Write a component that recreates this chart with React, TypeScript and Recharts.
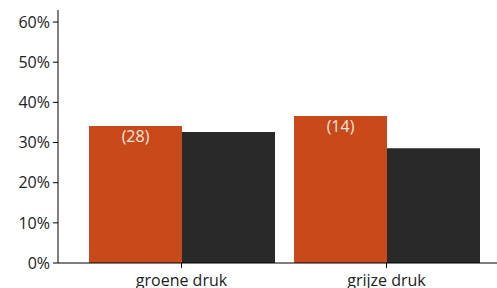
import { BarChart, Bar, XAxis, YAxis, LabelList } from "recharts";

const categories = ["groene druk", "grijze druk"];
const orangeValues = [34.1, 36.6];
const darkValues = [32.6, 28.6];
const orangeLabels = ["(28)", "(14)"];
const yTicks = [0, 10, 20, 30, 40, 50, 60];

const data = categories.map((name, i) => ({
  name,
  a: orangeValues[i],
  b: darkValues[i],
  label: orangeLabels[i],
}));

const FONT = "'Open Sans', 'Noto Sans', sans-serif";

export default function App() {
  return (
    <div style={{ position: "absolute", left: 0, top: 0, fontFamily: FONT }}>
      <BarChart
        width={497}
        height={288}
        data={data}
        margin={{ top: 10, right: 0, bottom: 0, left: 0 }}
        barGap={0}
        barCategoryGap={10}
      >
        <XAxis
          dataKey="name"
          height={25}
          padding={{ left: 21, right: 8 }}
          axisLine={{ stroke: "#000" }}
          tickLine={{ stroke: "#000" }}
          tickSize={5}
          tick={{ fill: "#222", fontSize: 16, fontFamily: FONT }}
          tickMargin={7}
        />
        <YAxis
          width={58}
          domain={[0, 63]}
          ticks={yTicks}
          tickFormatter={(v) => `${v}%`}
          axisLine={{ stroke: "#000" }}
          tickLine={{ stroke: "#000" }}
          tickSize={5}
          tick={{ fill: "#222", fontSize: 16, fontFamily: FONT }}
          tickMargin={3}
        />
        <Bar dataKey="a" fill="#C84A1B" isAnimationActive={false}>
          <LabelList
            dataKey="label"
            position="insideTop"
            offset={5}
            fill="#f3e6df"
            fontSize={16}
            fontFamily={FONT}
          />
        </Bar>
        <Bar dataKey="b" fill="#292929" isAnimationActive={false} />
      </BarChart>
    </div>
  );
}
